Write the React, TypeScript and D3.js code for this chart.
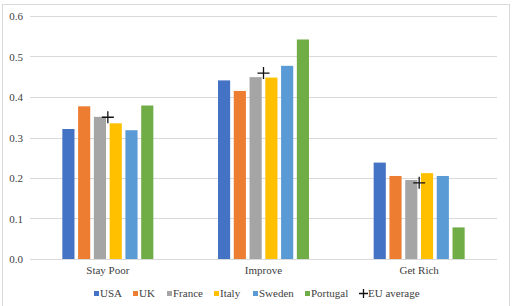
import React from "react";
import * as d3 from "d3";

const width = 517,
  height = 306;

const categories = ["Stay Poor", "Improve", "Get Rich"];
const countries = ["USA", "UK", "France", "Italy", "Sweden", "Portugal"];
const colors = ["#4472C4", "#ED7D31", "#A5A5A5", "#FFC000", "#5B9BD5", "#70AD47"];

// one array per country, in category order
const usa = [0.321, 0.441, 0.238];
const uk = [0.377, 0.415, 0.205];
const france = [0.351, 0.449, 0.195];
const italy = [0.335, 0.448, 0.212];
const sweden = [0.318, 0.477, 0.205];
const portugal = [0.379, 0.542, 0.078];
const euAverage = [0.35, 0.459, 0.188];

const yTicks = [0, 0.1, 0.2, 0.3, 0.4, 0.5, 0.6];

const series = [usa, uk, france, italy, sweden, portugal];

const x = d3.scaleBand().domain(categories).range([30, 497]);
const xInner = d3
  .scaleBand()
  .domain(countries)
  .range([0, x.bandwidth()])
  .paddingInner(0.23)
  .paddingOuter(2.05);
const y = d3.scaleLinear().domain([0, 0.6]).range([259, 16]);

const textStyle = {
  fontFamily: '"Liberation Serif", "Times New Roman", serif',
  fontSize: "11px",
};

// legend swatch positions
const legendX = [94, 133, 167, 214, 253, 305];

function cross(cx: number, cy: number, r: number) {
  return `M${cx - r},${cy}H${cx + r}M${cx},${cy - r}V${cy + r}`;
}

export default function App() {
  return (
    <svg
      width={width}
      height={height}
      style={{ position: "absolute", left: 0, top: 0, background: "#fff" }}
    >
      {/* chart frame */}
      <rect x={2.5} y={4.5} width={507} height={310} fill="#fff" stroke="#D9D9D9" />

      {yTicks.map((t) => {
        const yy = Math.round(y(t)) + 0.5;
        return (
          <g key={t}>
            <line x1={30} x2={497} y1={yy} y2={yy} stroke="#D9D9D9" />
            <text x={23} y={y(t) + 4} textAnchor="end" fill="#404040" style={textStyle}>
              {d3.format(".1f")(t)}
            </text>
          </g>
        );
      })}

      {categories.map((c, ci) => (
        <g key={c} transform={`translate(${x(c)},0)`}>
          {countries.map((k, i) => {
            const v = series[i][ci];
            return (
              <rect
                key={k}
                x={xInner(k)}
                width={xInner.bandwidth()}
                y={y(v)}
                height={y(0) - y(v)}
                fill={colors[i]}
              />
            );
          })}
          <path
            d={cross(x.bandwidth() / 2, y(euAverage[ci]), 6)}
            stroke="#111"
            strokeWidth={1.3}
            fill="none"
          />
          <text x={x.bandwidth() / 2} y={274} textAnchor="middle" fill="#404040" style={textStyle}>
            {c}
          </text>
        </g>
      ))}

      {/* legend */}
      {countries.map((k, i) => (
        <g key={k}>
          <rect x={legendX[i]} y={291} width={5} height={5} fill={colors[i]} />
          <text x={legendX[i] + 6} y={297} fill="#404040" style={textStyle}>
            {k}
          </text>
        </g>
      ))}
      <path d={cross(363.5, 293.5, 4.5)} stroke="#111" strokeWidth={1.3} />
      <text x={368} y={297} fill="#404040" style={textStyle}>
        EU average
      </text>
    </svg>
  );
}
